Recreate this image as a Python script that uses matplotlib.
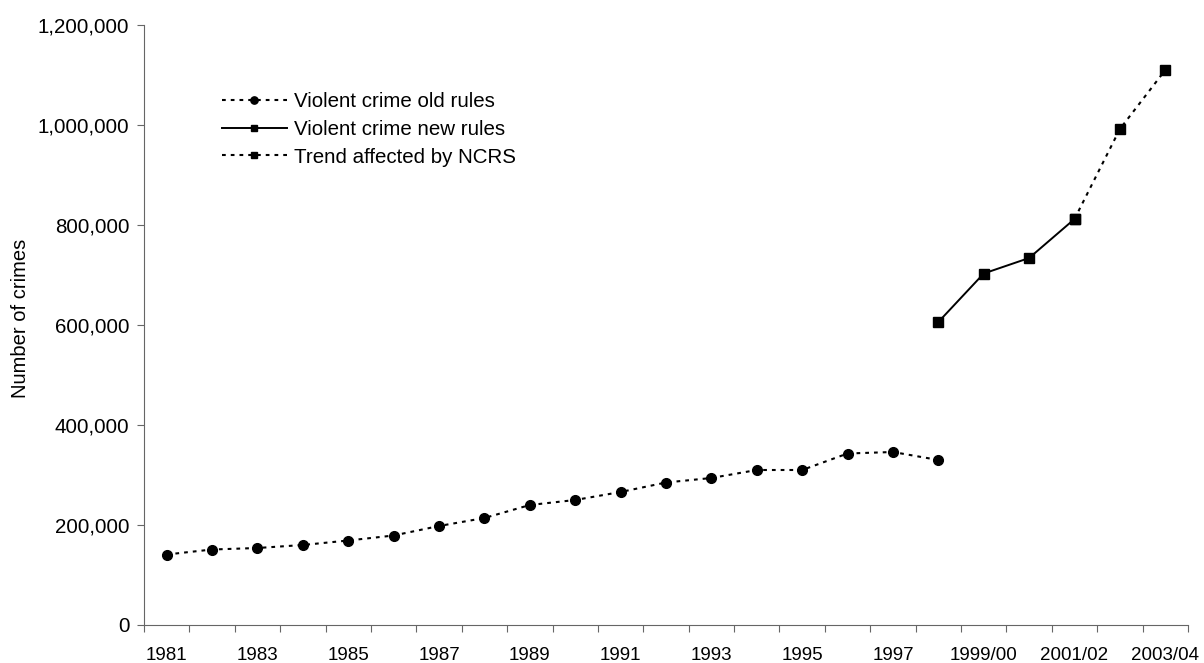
"""Recorded violent crime, old vs new counting rules."""
import matplotlib

matplotlib.use("Agg")
import matplotlib.pyplot as plt  # noqa: E402
from matplotlib.ticker import FuncFormatter  # noqa: E402

plt.rcParams["font.family"] = ["Liberation Sans", "DejaVu Sans"]

periods = [str(y) for y in range(1981, 1998)] + [
    "1998/99", "1999/00", "2000/01", "2001/02", "2002/03", "2003/04"]

old_rules = [141000, 151000, 154000, 160000, 169000, 179000, 198000,
             214000, 240000, 250000, 266000, 285000, 294000, 310000,
             310000, 343000, 346000, 330000]
new_rules = [606000, 703000, 734000, 812000]
ncrs_trend = [812000, 992000, 1110000]

C_LINE = "#000000"
C_AXIS = "#666666"

fig = plt.figure(figsize=(12.04, 6.63), dpi=100)
ax = fig.add_axes([144 / 1204, 1 - 625 / 663, (1188 - 144) / 1204, 600 / 663])

x_old = list(range(len(old_rules)))
x_new = list(range(17, 17 + len(new_rules)))
x_trend = list(range(20, 20 + len(ncrs_trend)))

dots = (0, (1.8, 2.4))
ax.plot(x_old, old_rules, color=C_LINE, lw=1.5, linestyle=dots,
        marker="o", markersize=7, label="Violent crime old rules")
ax.plot(x_new, new_rules, color=C_LINE, lw=1.4, linestyle="-",
        marker="s", markersize=6.5, label="Violent crime new rules")
ax.plot(x_trend, ncrs_trend, color=C_LINE, lw=1.5, linestyle=dots,
        marker="s", markersize=6.5, label="Trend affected by NCRS")

ax.set_xlim(-0.5, len(periods) - 0.5)
ax.set_ylim(0, 1200000)
ax.set_yticks(range(0, 1200001, 200000))
ax.yaxis.set_major_formatter(FuncFormatter(lambda v, _: f"{int(v):,}"))

# Excel style: tick marks between categories, labels on every other category
ax.set_xticks([i - 0.5 for i in range(len(periods) + 1)])
ax.set_xticklabels([])
ax.set_xticks(range(0, len(periods), 2), minor=True)
ax.set_xticklabels(periods[::2], minor=True)
ax.tick_params(axis="x", which="major", length=5, width=0.8, color=C_AXIS)
ax.tick_params(axis="x", which="minor", length=0, pad=16, labelsize=13.5)
ax.tick_params(axis="y", length=5, width=0.8, color=C_AXIS, labelsize=14.8, pad=5.5)

for side in ("top", "right"):
    ax.spines[side].set_visible(False)
for side in ("left", "bottom"):
    ax.spines[side].set_color(C_AXIS)
    ax.spines[side].set_linewidth(0.8)

fig.text(21 / 1204, 1 - 318 / 663, "Number of crimes", rotation=90,
         ha="center", va="center", fontsize=14.5)

ax.legend(loc="upper left", bbox_to_anchor=(222 / 1204, 1 - 92 / 663),
          bbox_transform=fig.transFigure, frameon=False, fontsize=14.8,
          numpoints=1, markerscale=0.75, handlelength=3.15,
          handletextpad=0.34, labelspacing=0.43, borderpad=0, borderaxespad=0)

fig.savefig("out.png", dpi=100)
